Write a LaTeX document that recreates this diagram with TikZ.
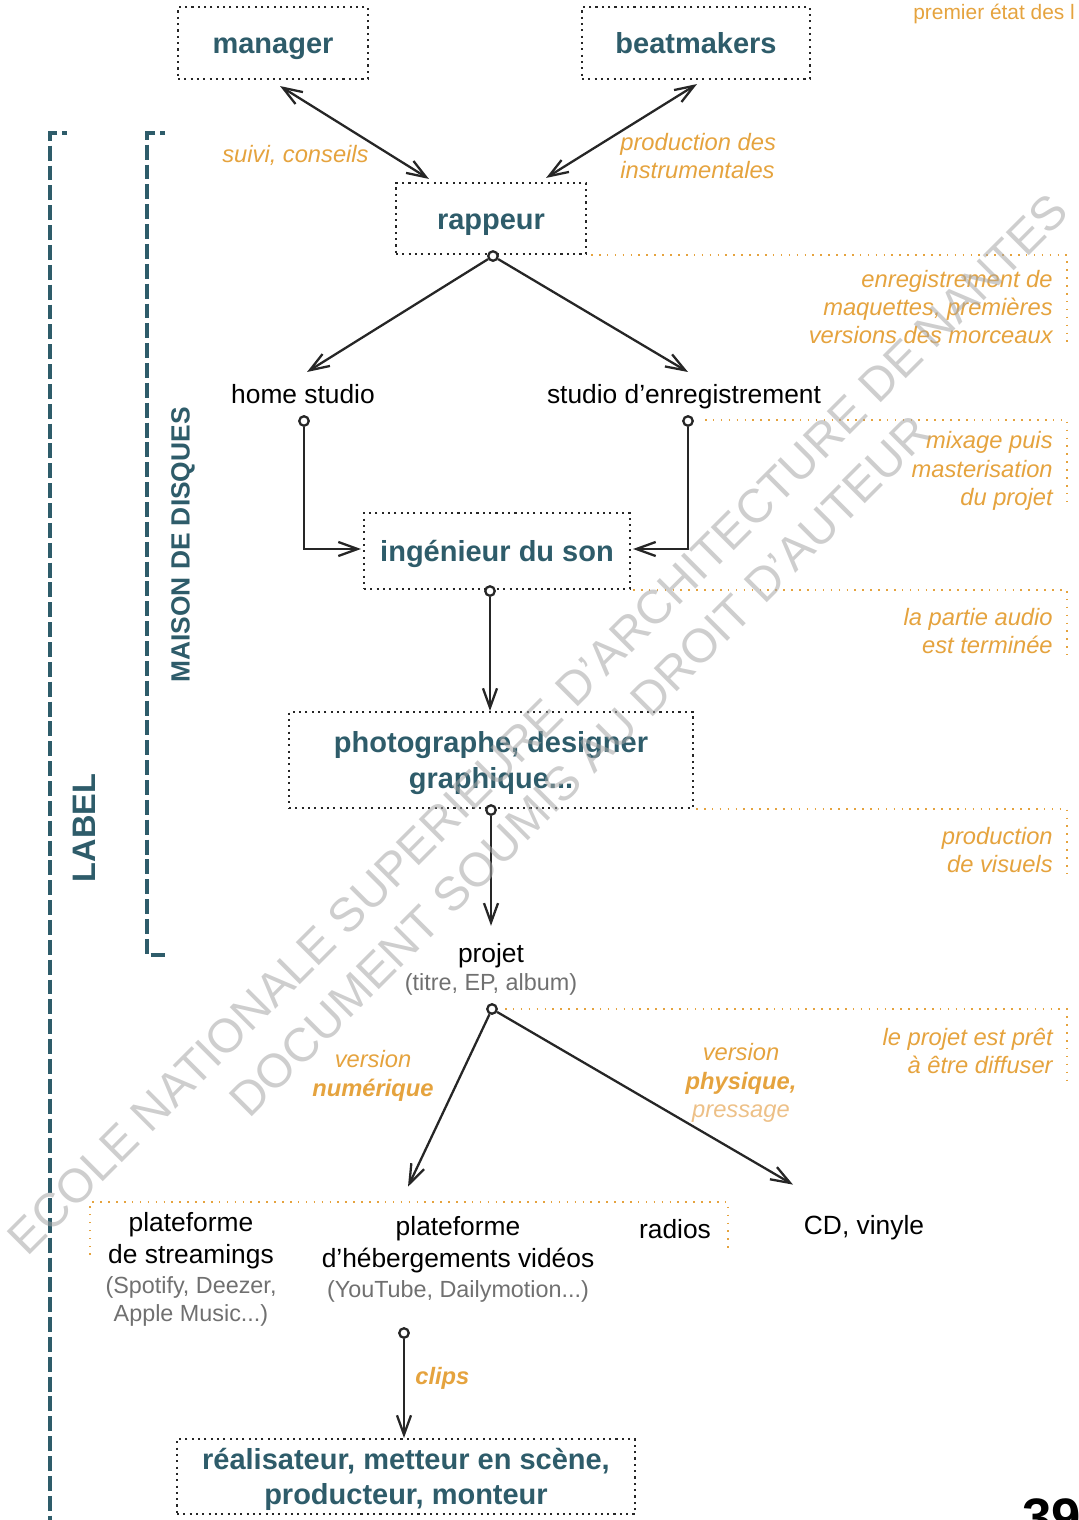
\documentclass[tikz,border=0pt]{standalone}
\usepackage{fontspec}
\setmainfont{Liberation Sans}
\usepackage{tikz}
\usetikzlibrary{arrows.meta, positioning, calc}
\definecolor{labelteal}{RGB}{46,92,106}
\definecolor{noteorange}{RGB}{229,163,62}
\definecolor{paleorange}{RGB}{237,192,135}
\definecolor{subgray}{RGB}{112,112,112}
\newcommand{\actstrut}{\rule[-4pt]{0pt}{20pt}}

\begin{document}
\begin{tikzpicture}[x=0.02cm, y=-0.02cm,
    actor/.style={draw=black!85, line width=1.2pt, dash pattern=on 1.2pt off 2.4pt, text=labelteal, align=center, inner sep=0pt,
        font=\bfseries\fontsize{16.5}{20}\selectfont},
    spot/.style={text=black, align=center, inner sep=1pt, font=\fontsize{15}{18.1}\selectfont},
    detail/.style={text=subgray, align=center, inner sep=1pt, font=\fontsize{13.3}{16.4}\selectfont},
    notetext/.style={text=noteorange, inner sep=0pt, font=\itshape\fontsize{13.5}{16.2}\selectfont},
    hole/.style={circle, draw=black!85, fill=white, line width=1.3pt, minimum size=0.19cm, inner sep=0pt},
    flow/.style={draw=black!85, line width=1.3pt, -{Straight Barb[length=11pt,width=8pt]}},
    twoway/.style={flow, {Straight Barb[length=11pt,width=8pt]}-{Straight Barb[length=11pt,width=8pt]}},
    stage/.style={draw=noteorange, line width=0.9pt, dash pattern=on 0.9pt off 3.6pt},
    band/.style={draw=labelteal, line width=1.9pt, dash pattern=on 8.5pt off 2.8pt},
    bandtitle/.style={text=labelteal, rotate=90, inner sep=0pt}]
    \useasboundingbox (0,0) rectangle (1078,1520);

    % top of the chain
    \node[actor, minimum width=3.8cm, minimum height=1.44cm] (manager) at (273,43) {\actstrut manager};
    \node[actor, minimum width=4.56cm, minimum height=1.44cm] (beatmakers) at (696,43) {\actstrut beatmakers};
    \node[actor, minimum width=3.8cm, minimum height=1.42cm] (rappeur) at (491,218.5) {\actstrut rappeur};
    \draw[twoway] ($(manager.south)+(7,6)$) -- ($(rappeur.north west)+(34,-3)$);
    \draw[twoway] ($(beatmakers.south)+(1,4)$) -- ($(rappeur.north east)+(-41,-4)$);
    \node[notetext, anchor=east] (suivi) at (369,155) {suivi, conseils};
    \node[notetext, align=left, anchor=west] (instru) at (620,156) {production des\\instrumentales};

    % studios
    \node[spot, anchor=base] (home) at (303,403) {home studio};
    \node[spot, anchor=base] (studio) at (684,403) {studio d’enregistrement};
    \node[hole] (rdot) at ($(rappeur.south)+(2,1)$) {};
    \draw[flow] (rdot) -- ($(home.base)+(4,-31)$);
    \draw[flow] (rdot) -- ($(studio.base)+(4,-31)$);

    \node[actor, minimum width=5.32cm, minimum height=1.52cm] (ing) at (497,551) {\actstrut ingénieur du son};
    \node[hole] (hdot) at ($(home.base)+(1,18)$) {};
    \node[hole] (sdot) at ($(studio.base)+(4,18)$) {};
    \draw[flow] (hdot) |- ($(ing.west)+(-2,-2)$);
    \draw[flow] (sdot) |- ($(ing.east)+(2,-2)$);

    \node[actor, minimum width=8.08cm, minimum height=1.92cm] (photo) at (491,760) {\actstrut photographe, designer\\\actstrut graphique...};
    \node[hole] (idot) at ($(ing.south)+(-7,1)$) {};
    \draw[flow] (idot) -- (idot |- photo.north);

    % projet
    \node[spot, anchor=base] (projet) at (491,962) {projet};
    \node[detail, anchor=base] (projsub) at (491,990) {(titre, EP, album)};
    \node[hole] (pdot) at ($(photo.south)+(0,1)$) {};
    \draw[flow] (pdot) -- ($(projet.north)+(0,-15)$);

    % diffusion
    \node[hole] (prdot) at ($(projsub.base)+(1,19)$) {};
    \node[spot] (stream) at (191,1241) {plateforme\\de streamings};
    \node[detail] (streamsub) at (191,1301.5) {(Spotify, Deezer,\\Apple Music...)};
    \node[spot] (video) at (458,1245) {plateforme\\d’hébergements vidéos};
    \node[detail] (videosub) at (458,1291) {(YouTube, Dailymotion...)};
    \node[spot] (radios) at (675,1229) {radios};
    \node[spot] (cd) at (864,1228) {CD, vinyle};
    \draw[flow] (prdot) -- ($(video.north)+(-50,-28)$);
    \draw[flow] (prdot) -- ($(cd.north)+(-71,-29)$);
    \node[notetext, align=center] (numerique) at (373,1076) {version\\\textbf{numérique}};
    \node[notetext, align=center] (physique) at (741,1083) {version\\\textbf{physique,}\\\textcolor{paleorange}{pressage}};
    \draw[stage] (90,1255) |- (728,1202) -- (728,1252);

    \node[actor, minimum width=9.16cm, minimum height=1.5cm] (real) at (406,1476.5) {\actstrut réalisateur, metteur en scène,\\\actstrut producteur, monteur};
    \node[hole] (vdot) at ($(videosub.south)+(-54,29)$) {};
    \draw[flow] (vdot) -- (vdot |- real.north);
    \node[notetext, anchor=west] (clips) at (415,1378) {\textbf{clips}};

    % etapes a droite
    \draw[stage] ($(rappeur.south east)+(4,0)$) -| (1067,345);
    \node[notetext, align=right, anchor=east] (maquettes) at (1053,307) {enregistrement de\\maquettes, premières\\versions des morceaux};
    \draw[stage] ($(sdot)+(17,-1)$) -| (1067,508);
    \node[notetext, align=right, anchor=east] (mixage) at (1053,471) {mixage puis\\masterisation\\du projet};
    \draw[stage] ($(ing.south east)+(2,0)$) -| (1067,655);
    \node[notetext, align=right, anchor=east] (audio) at (1053,631) {la partie audio\\est terminée};
    \draw[stage] ($(photo.south east)+(2,0)$) -| (1067,873);
    \node[notetext, align=right, anchor=east] (visuels) at (1053,850) {production\\de visuels};
    \draw[stage] ($(prdot)+(13,0)$) -| (1067,1080);
    \node[notetext, align=right, anchor=east] (pret) at (1053,1051) {le projet est prêt\\à être diffuser};

    % label et maison de disques
    \draw[band, dash phase=5.7pt] (67,133) -| (50,1530);
    \draw[band, dash phase=5.7pt] (165,133) -| (147,955) -- (165,955);
    \node[bandtitle, font=\bfseries\fontsize{15}{18}\selectfont] (maison) at (183,545) {MAISON DE DISQUES};
    \node[bandtitle, font=\bfseries\fontsize{18.5}{22}\selectfont] (label) at (84,828) {LABEL};

    % bords de page
    \node[anchor=base west, text=noteorange, inner sep=0pt, font=\fontsize{11.9}{14}\selectfont] (etat) at (913,20) {premier état des l};
    \node[anchor=base west, inner sep=0pt, font=\bfseries\fontsize{30}{36}\selectfont] (page) at (1022,1535) {39};
    \node[rotate=45, align=center, text=black!35, opacity=0.55, font=\fontsize{27}{34}\selectfont] (mark) at (559,745) {ECOLE NATIONALE SUPERIEURE D'ARCHITECTURE DE NANTES\\DOCUMENT SOUMIS AU DROIT D'AUTEUR};
\end{tikzpicture}
\end{document}
